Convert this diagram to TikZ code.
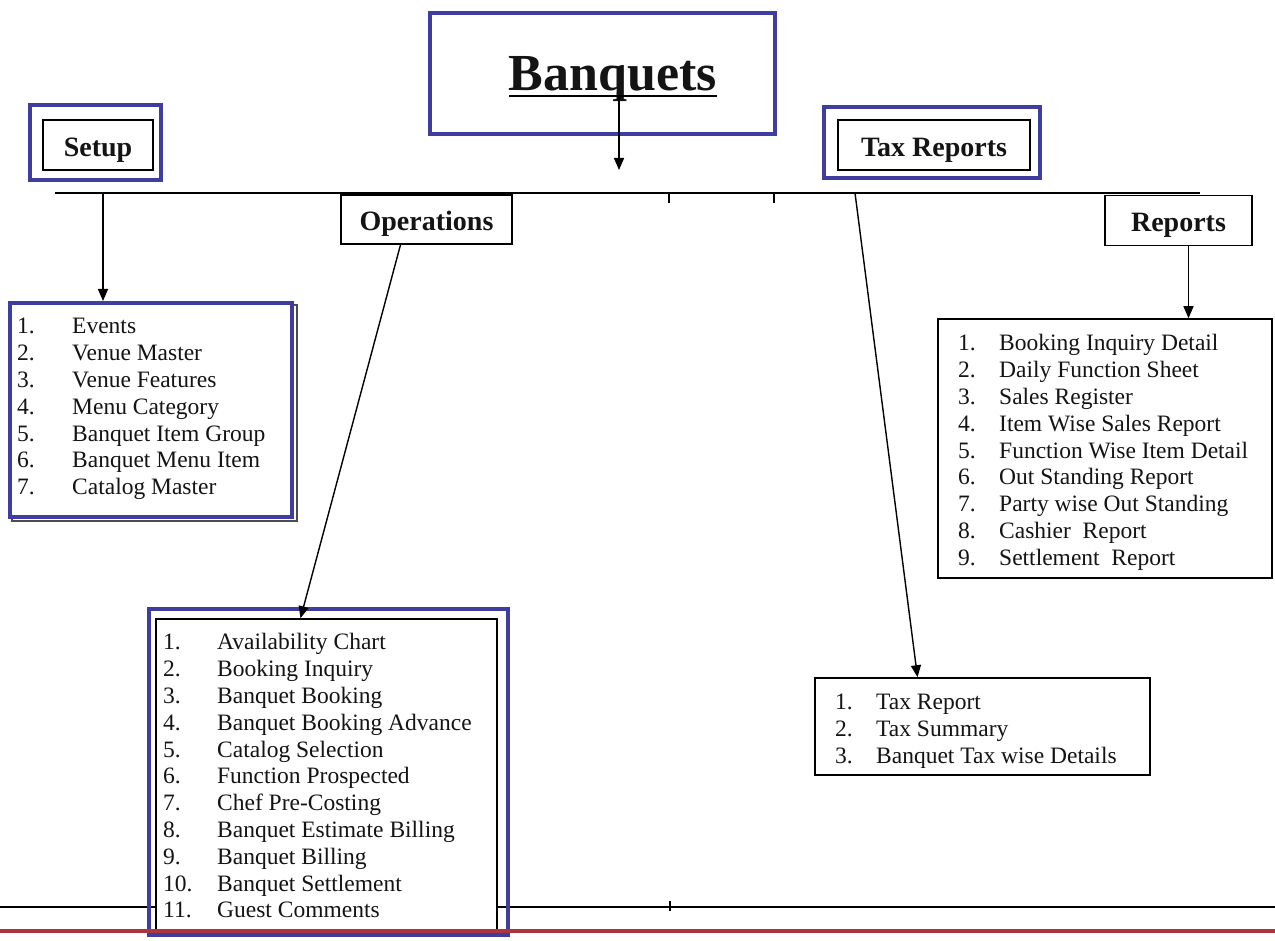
\documentclass[tikz,border=0pt]{standalone}
\usepackage{fontspec}
\setmainfont{Liberation Serif}
\usetikzlibrary{arrows.meta}
\definecolor{frameblue}{RGB}{62,62,160}
\definecolor{redline}{RGB}{176,52,62}
\definecolor{txt}{RGB}{20,20,20}
\newcommand\listitems[2]{{\fontsize{23.5}{26.8}\selectfont\begin{tabular}{@{}p{#1}@{}l@{}}#2\end{tabular}}}
\begin{document}
\begin{tikzpicture}[x=1pt,y=-1pt,
  bluebox/.style={draw=frameblue, line width=4pt, inner sep=0pt},
  blackbox/.style={draw=black, line width=1.6pt, fill=white, inner sep=0pt},
  headtxt/.style={font=\fontsize{28}{32}\selectfont\bfseries, text=txt, text height=24pt, text depth=1.5pt},
  listtxt/.style={anchor=north west, inner sep=0pt, text=txt},
  arr/.style={line width=1.4pt, -{Triangle[length=12pt,width=10pt]}},
  plain/.style={line width=1.5pt}]
\fill[white] (0,0) rectangle (1275,941);
\useasboundingbox (0,0) rectangle (1275,941);

% title
\node[bluebox, minimum width=345pt, minimum height=121pt] (titlebox) at (602.5,73.5) {};
\node[font=\fontsize{52}{60}\selectfont\bfseries, inner sep=0pt, anchor=base, text=txt] (title) at (613,91) {Banquets};
\draw[line width=2.6pt] ([yshift=-5pt]title.base west) -- ([yshift=-5pt]title.base east);
\coordinate (tA) at (619,97);
\coordinate (tB) at (619,170);
\draw[arr] (tA) -- (tB);

% bus
\coordinate (busL) at (55,193);
\coordinate (busR) at (1200,193);
\draw[plain] (busL) -- (busR);
\coordinate (tk1) at (669,193);
\coordinate (tk2) at (774,193);
\draw[plain] (tk1) -- ++(0,10);
\draw[plain] (tk2) -- ++(0,10);

% setup
\node[bluebox, minimum width=131pt, minimum height=75pt] (setupframe) at (95.5,142.5) {};
\node[blackbox, headtxt, minimum width=110pt, minimum height=50pt] (setup) at (98,145) {Setup};

% tax reports
\node[bluebox, minimum width=216pt, minimum height=71pt] (taxframe) at (932,142.5) {};
\node[blackbox, headtxt, minimum width=192pt, minimum height=50pt] (tax) at (934,145) {Tax Reports};

% operations, reports
\node[blackbox, headtxt, minimum width=171pt, minimum height=49pt] (ops) at (426.5,219.5) {Operations};
\node[blackbox, headtxt, minimum width=147pt, minimum height=50pt] (reports) at (1178.5,220.5) {Reports};

% setup list
\node[draw=black!70, line width=1.5pt, minimum width=285pt, minimum height=216pt] (setupshadow) at (154.5,413) {};
\node[bluebox, fill=white, minimum width=282pt, minimum height=214pt] (setuplist) at (151,410) {};
\node[listtxt] (setuptext) at (17,315) {\listitems{55pt}{1. & Events\\ 2. & Venue Master\\ 3. & Venue Features\\ 4. & Menu Category\\ 5. & Banquet Item Group\\ 6. & Banquet Menu Item\\ 7. & Catalog Master}};
\coordinate (sd) at (103,193);
\draw[arr] (sd) -- (sd |- setuplist.north);

% bottom line
\coordinate (bl1) at (0,907);
\coordinate (bl2) at (1275,907);
\draw[plain] (bl1) -- (bl2);
\coordinate (tk3) at (670,901);
\draw[plain] (tk3) -- ++(0,10);

% operations list
\node[bluebox, minimum width=359pt, minimum height=326pt] (opsframe) at (328.5,772) {};
\node[blackbox, minimum width=341pt, minimum height=311pt] (opslist) at (326.5,774.5) {};
\node[listtxt] (opstext) at (163,631) {\listitems{54pt}{1. & Availability Chart\\ 2. & Booking Inquiry\\ 3. & Banquet Booking\\ 4. & Banquet Booking Advance\\ 5. & Catalog Selection\\ 6. & Function Prospected\\ 7. & Chef Pre-Costing\\ 8. & Banquet Estimate Billing\\ 9. & Banquet Billing\\ 10. & Banquet Settlement\\ 11. & Guest Comments}};
\draw[arr] ([xshift=-26pt]ops.south) -- ([xshift=-26pt]opslist.north);

% tax list
\node[blackbox, minimum width=335pt, minimum height=97pt] (taxlist) at (982.5,726.5) {};
\node[listtxt] (taxtext) at (835,691) {\listitems{41pt}{1. & Tax Report\\ 2. & Tax Summary\\ 3. & Banquet Tax wise Details}};
\coordinate (td) at (855,193);
\draw[arr] (td) -- ([xshift=-65pt]taxlist.north);

% reports list
\node[blackbox, minimum width=334pt, minimum height=259pt] (replist) at (1105,448.5) {};
\node[listtxt] (reptext) at (958,332) {\listitems{41pt}{1. & Booking Inquiry Detail\\ 2. & Daily Function Sheet\\ 3. & Sales Register\\ 4. & Item Wise Sales Report\\ 5. & Function Wise Item Detail\\ 6. & Out Standing Report\\ 7. & Party wise Out Standing\\ 8. & Cashier\ \ Report\\ 9. & Settlement\ \ Report}};
\coordinate (rs) at ([xshift=10pt]reports.south);
\draw[arr] (rs) -- (rs |- replist.north);

% red line
\coordinate (rl1) at (0,931);
\coordinate (rl2) at (1275,931);
\draw[redline, line width=4pt] (rl1) -- (rl2);
\end{tikzpicture}
\end{document}
